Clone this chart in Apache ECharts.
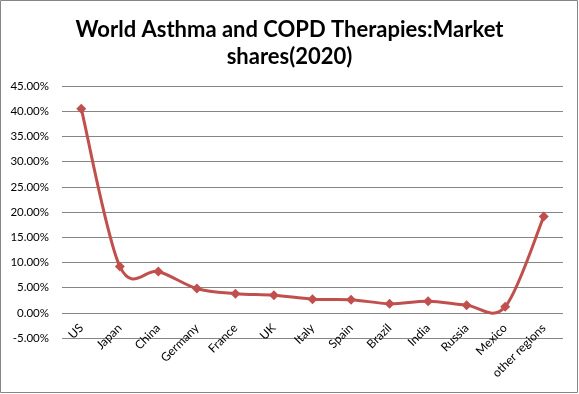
<!DOCTYPE html>
<html><head><meta charset="utf-8">
<script src="https://cdn.jsdelivr.net/npm/echarts@6/dist/echarts.min.js"></script>
<style>html,body{margin:0;padding:0;background:#fff}#c{width:579px;height:394px}</style>
</head><body><div id="c"></div>
<script>
const titleText = "World Asthma and COPD Therapies:Market\nshares(2020)";
const categories = ["US","Japan","China","Germany","France","UK","Italy","Spain","Brazil","India","Russia","Mexico","other regions"];
const shares = [0.405,0.092,0.082,0.048,0.038,0.035,0.027,0.026,0.018,0.023,0.015,0.012,0.191];
const yMin = -0.05, yMax = 0.45, yStep = 0.05;
const lineColor = '#C0504D';

// Smooth curve segment (Catmull-Rom style, as in spreadsheet smoothed lines),
// with all points converted through the chart's own axes via api.coord.
function renderSegment(params, api) {
  const i = params.dataIndex;
  const n = shares.length;
  if (i >= n - 1) return null;
  const pt = k => api.coord([Math.max(0, Math.min(n - 1, k)), shares[Math.max(0, Math.min(n - 1, k))]]);
  const p0 = pt(i - 1), p1 = pt(i), p2 = pt(i + 1), p3 = pt(i + 2);
  const t = 1 / 6;
  return {
    type: 'bezierCurve',
    shape: {
      x1: p1[0], y1: p1[1], x2: p2[0], y2: p2[1],
      cpx1: p1[0] + (p2[0] - p0[0]) * t, cpy1: p1[1] + (p2[1] - p0[1]) * t,
      cpx2: p2[0] - (p3[0] - p1[0]) * t, cpy2: p2[1] - (p3[1] - p1[1]) * t
    },
    style: { stroke: lineColor, lineWidth: 3, fill: null, lineCap: 'round' }
  };
}

const chart = echarts.init(document.getElementById('c'));
chart.setOption({
  backgroundColor:'#fff',
  animation:false,
  graphic:[{type:'rect',shape:{x:0.5,y:0.5,width:577,height:392},style:{fill:'none',stroke:'#868686',lineWidth:1}}],
  title:{text:titleText,left:'center',top:11,textStyle:{fontFamily:'Lato',fontWeight:'bold',fontSize:22,color:'#000',lineHeight:27}},
  grid:{left:62,right:16,top:86,bottom:56,containLabel:false,outerBoundsMode:'none'},
  xAxis:{type:'category',data:categories,boundaryGap:true,
    axisLine:{show:false},axisTick:{show:false},
    axisLabel:{rotate:45,interval:0,margin:-12,fontFamily:'Lato',fontSize:12,color:'#000'}},
  yAxis:{type:'value',min:yMin,max:yMax,interval:yStep,
    axisLine:{show:false},axisTick:{show:false},
    splitLine:{lineStyle:{color:'#868686',width:1}},
    axisLabel:{margin:13,fontFamily:'Lato',fontSize:11.5,color:'#000',formatter:v=>(v*100).toFixed(2)+'%'}},
  series:[
    {type:'custom',z:2,renderItem:renderSegment,data:shares.map((v,i)=>[i,v]),encode:{x:0,y:1}},
    {type:'line',z:3,data:shares,symbol:'diamond',symbolSize:10,
      lineStyle:{width:0,opacity:0},itemStyle:{color:lineColor}}
  ]
});
</script></body></html>
